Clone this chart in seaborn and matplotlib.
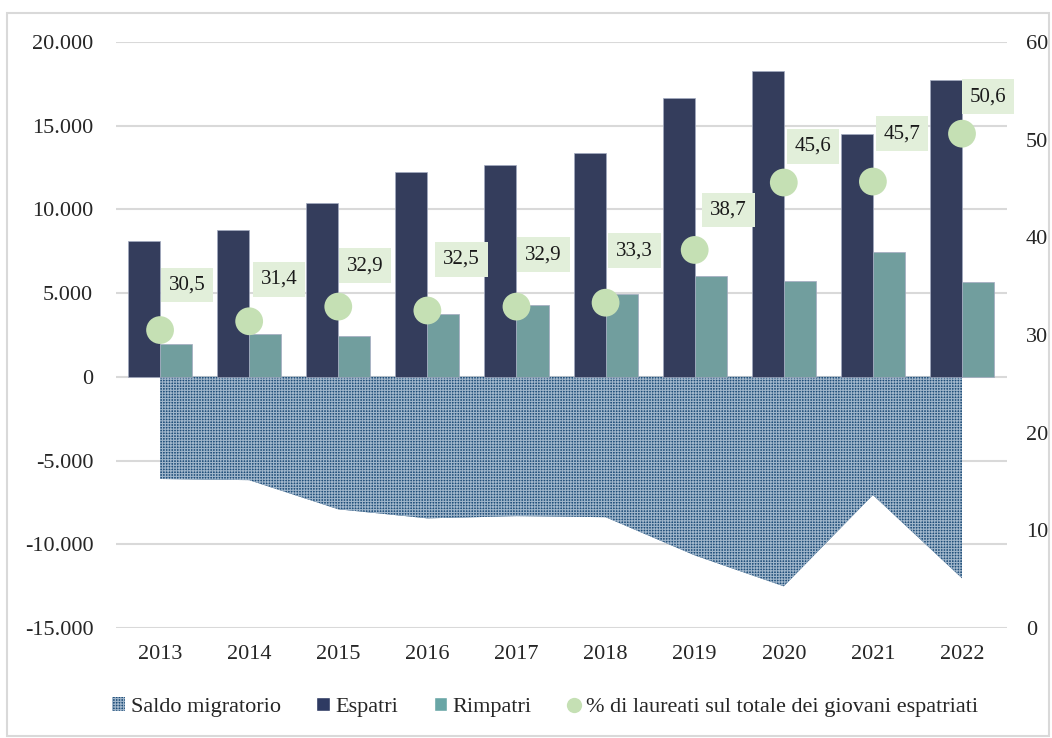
import numpy as np
import pandas as pd
import seaborn as sns
import matplotlib.pyplot as plt
from matplotlib.patches import Patch, Rectangle
from matplotlib.lines import Line2D
from matplotlib.ticker import FuncFormatter, MultipleLocator

# ------------------ Data ------------------
years = ['2013', '2014', '2015', '2016', '2017', '2018', '2019', '2020', '2021', '2022']
espatri = [8080, 8740, 10360, 12220, 12630, 13350, 16650, 18260, 14490, 17720]
rimpatri = [1980, 2570, 2450, 3770, 4310, 4970, 5990, 5750, 7430, 5690]
saldo = [-6100, -6170, -7910, -8450, -8320, -8380, -10660, -12510, -7060, -12030]
pct_laureati = [30.5, 31.4, 32.9, 32.5, 32.9, 33.3, 38.7, 45.6, 45.7, 50.6]

# label box offsets in pixels (manual placement, as in the original)
label_offsets = [(27, 45), (30, 42), (27, 41), (34, 51), (27, 52),
                 (29, 52), (34, 40), (29, 36), (29, 48), (26, 37)]

col_espatri = '#2e3a62'
col_rimpatri = '#69a6a6'
col_saldo = '#1f4e79'
col_hatch = '#9fb5ca'
col_dot = '#c5e0b4'
col_box = '#e2efda'
col_grid = '#d9d9d9'

bars = pd.DataFrame({'Anno': years * 2,
                     'Valore': espatri + rimpatri,
                     'Serie': ['Espatri'] * len(years) + ['Rimpatri'] * len(years)})

# ------------------ Style ------------------
sns.set_style('white')
plt.rcParams['font.family'] = ['Liberation Serif', 'DejaVu Serif']
plt.rcParams['hatch.linewidth'] = 0.8
plt.rcParams['hatch.color'] = col_hatch

fig = plt.figure(figsize=(10.52, 7.38), dpi=100)
ax = fig.add_axes([0.1098, 0.149, 0.847, 0.7943])

# ------------------ Bars ------------------
sns.barplot(data=bars, x='Anno', y='Valore', hue='Serie',
            palette=[col_espatri, col_rimpatri], width=0.72,
            edgecolor='#a3aac0', linewidth=0.5, legend=False, ax=ax, zorder=3)

# ------------------ Area: saldo migratorio ------------------
pos = np.arange(len(years))
ax.fill_between(pos, saldo, 0, facecolor=col_saldo, edgecolor=col_hatch,
                hatch='++++++', linewidth=0, zorder=2)

ax.set_ylim(-15000, 20000)
ax.set_xlim(-0.5, len(years) - 0.5)
ax.yaxis.set_major_locator(MultipleLocator(5000))
ax.yaxis.set_major_formatter(FuncFormatter(lambda v, p: f'{int(v):,}'.replace(',', '.')))
ax.grid(axis='y', color=col_grid, linewidth=1.5)
ax.set_axisbelow(True)
ax.set_xlabel('')
ax.set_ylabel('')
ax.tick_params(axis='y', length=0, pad=16, labelsize=16)
ax.tick_params(axis='x', length=0, pad=12, labelsize=16)
for s in ax.spines.values():
    s.set_visible(False)

# ------------------ Secondary axis: % laureati ------------------
ax2 = ax.twinx()
sns.scatterplot(x=pos, y=pct_laureati, ax=ax2, s=400, color=col_dot,
                edgecolor='none', zorder=5)
for i, (v, off) in enumerate(zip(pct_laureati, label_offsets)):
    ax2.annotate(f'{v:.1f}'.replace('.', ','), (pos[i], v),
                 xytext=off, textcoords='offset pixels',
                 ha='center', va='center', fontsize=15, color='#1a1a1a',
                 bbox=dict(boxstyle='square,pad=0.38', fc=col_box, ec='none'),
                 zorder=6)
ax2.set_ylim(0, 60)
ax2.yaxis.set_major_locator(MultipleLocator(10))
ax2.tick_params(axis='y', length=0, pad=14, labelsize=16)
for s in ax2.spines.values():
    s.set_visible(False)

# ------------------ Legend ------------------
handles = [
    Patch(facecolor=col_saldo, edgecolor=col_hatch, hatch='++++++', linewidth=0),
    Patch(facecolor=col_espatri),
    Patch(facecolor=col_rimpatri),
    Line2D([], [], marker='o', linestyle='none', markersize=11,
           markerfacecolor=col_dot, markeredgecolor='none'),
]
labels = ['Saldo migratorio', 'Espatri', 'Rimpatri',
          '% di laureati sul totale dei giovani espatriati']
fig.legend(handles, labels, loc='center', bbox_to_anchor=(0.518, 0.042), ncol=4,
           frameon=False, fontsize=16, handlelength=0.6, handleheight=0.6,
           handletextpad=0.25, columnspacing=1.6)

# outer chart border
fig.patches.append(Rectangle((0.007, 0.003), 0.99, 0.979, transform=fig.transFigure,
                             fill=False, edgecolor=col_grid, linewidth=1.5))

fig.savefig('out.png', dpi=100)
